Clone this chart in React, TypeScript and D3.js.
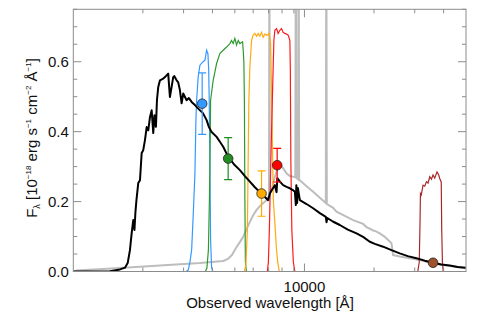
import React, { useEffect, useRef } from "react";
import { select, scaleLog, scaleLinear, line, range } from "d3";

// observed wavelength [Å], flux [1e-18 erg/s/cm2/Å]
const blackSed: [number, number][] = [
  [1000, 0], [1181, 0], [1441, 0.001], [1592, 0.006], [1673, 0.011], [1719, 0.024],
  [1758, 0.061], [1789, 0.11], [1817, 0.147], [1839, 0.119], [1857, 0.17], [1876, 0.204],
  [1910, 0.253], [1943, 0.261], [1976, 0.339], [2007, 0.347], [2042, 0.376], [2077, 0.413],
  [2110, 0.404], [2146, 0.441], [2183, 0.461], [2218, 0.396], [2244, 0.447], [2278, 0.414],
  [2301, 0.49], [2331, 0.528], [2371, 0.547], [2450, 0.552], [2491, 0.556], [2574, 0.566],
  [2618, 0.499], [2663, 0.528], [2706, 0.556], [2733, 0.559], [2799, 0.547], [2844, 0.541],
  [2892, 0.519], [2942, 0.481], [2989, 0.509], [3092, 0.49], [3163, 0.496], [3250, 0.485],
  [3359, 0.476], [3531, 0.461], [3638, 0.453], [3774, 0.433], [3862, 0.413], [3967, 0.399],
  [4169, 0.385], [4308, 0.371], [4452, 0.357], [4678, 0.328], [4952, 0.307], [5257, 0.29],
  [5525, 0.273], [5807, 0.257], [6103, 0.241], [6415, 0.227], [6743, 0.213], [6967, 0.204],
  [7086, 0.223], [7229, 0.233], [7447, 0.247], [7574, 0.227], [7634, 0.267], [7830, 0.257],
  [8088, 0.247], [8367, 0.242], [8648, 0.238], [8911, 0.233], [9090, 0.228], [9181, 0.19],
  [9226, 0.247], [9299, 0.196], [9365, 0.239], [9554, 0.204], [10211, 0.193], [10905, 0.181],
  [11658, 0.167], [12374, 0.156], [12460, 0.141], [12560, 0.153], [13268, 0.143], [14224, 0.133],
  [15402, 0.12], [16800, 0.109], [17940, 0.099], [19170, 0.085], [20160, 0.079], [21890, 0.071],
  [23800, 0.061], [25850, 0.052], [28000, 0.044], [30520, 0.038], [33160, 0.031], [36000, 0.025],
  [39140, 0.02], [42530, 0.017], [46050, 0.013], [49870, 0.011],
];

const graySed: [number, number][] = [
  [1000, 0], [1034, 0.003], [1592, 0.01], [2371, 0.017], [3531, 0.024], [4452, 0.03],
  [4666, 0.036], [4855, 0.047], [5086, 0.07], [5257, 0.084], [5433, 0.099], [5619, 0.121],
  [5807, 0.142], [6001, 0.161], [6209, 0.176], [6415, 0.187], [6630, 0.196], [6858, 0.204],
  [6982, 0.213], [7025, 0.216], [7054, 1.06], [7082, 0.224], [7210, 0.233], [7376, 0.261],
  [7574, 0.285], [7695, 0.304], [7830, 0.309], [8088, 0.295], [8367, 0.281], [8648, 0.273],
  [8936, 0.271], [9131, 0.27], [9181, 1.06], [9226, 0.267], [9393, 0.264], [9439, 1.06],
  [9487, 0.261], [9554, 0.261], [10211, 0.244], [10905, 0.228], [11658, 0.211], [12374, 0.196],
  [12436, 1.06], [12497, 0.193], [13268, 0.183], [13765, 0.171], [14950, 0.159], [16240, 0.147],
  [17360, 0.14], [17940, 0.136], [18560, 0.127], [19760, 0.118], [20500, 0.114], [21180, 0.109],
  [22260, 0.099], [23800, 0.081], [24180, 0.047], [25850, 0.043], [28560, 0.038], [31550, 0.033],
  [36000, 0.023], [42530, 0.016], [49870, 0.009],
];

// filter curves, scaled to the flux axis
const filterU: [number, number][] = [
  [3071, 0], [3142, 0.004], [3196, 0.027], [3250, 0.061], [3302, 0.161], [3359, 0.281],
  [3392, 0.433], [3416, 0.49], [3470, 0.557], [3531, 0.59], [3626, 0.599], [3710, 0.604],
  [3774, 0.633], [3823, 0.623], [3853, 0.576], [3873, 0.49], [3899, 0.319], [3926, 0.09],
  [3967, 0.01], [4018, 0],
];
const filterG: [number, number][] = [
  [3729, 0], [3785, 0.01], [3841, 0.061], [3880, 0.204], [3911, 0.376], [3926, 0.49],
  [4029, 0.547], [4169, 0.595], [4308, 0.624], [4452, 0.633], [4605, 0.642], [4759, 0.652],
  [4838, 0.661], [4919, 0.652], [5000, 0.667], [5086, 0.648], [5170, 0.661], [5257, 0.652],
  [5400, 0.657], [5433, 0.633], [5470, 0.6], [5498, 0.49], [5525, 0.204], [5553, 0.027], [5608, 0],
];
const filterR: [number, number][] = [
  [5498, 0], [5580, 0.019], [5664, 0.119], [5709, 0.319], [5749, 0.49], [5807, 0.585],
  [5906, 0.661], [6001, 0.676], [6103, 0.681], [6209, 0.673], [6309, 0.681], [6415, 0.673],
  [6523, 0.684], [6630, 0.67], [6743, 0.679], [6898, 0.676], [7037, 0.681], [7135, 0.652],
  [7192, 0.547], [7264, 0.376], [7336, 0.204], [7447, 0.139], [7574, 0.061], [7672, 0.024], [7788, 0],
];
const filterI: [number, number][] = [
  [6913, 0], [6982, 0.027], [7051, 0.119], [7157, 0.319], [7280, 0.519], [7376, 0.661],
  [7447, 0.69], [7574, 0.695], [7695, 0.681], [7830, 0.69], [7962, 0.695], [8088, 0.684],
  [8226, 0.681], [8367, 0.679], [8502, 0.676], [8648, 0.661], [8690, 0.576], [8733, 0.319],
  [8820, 0.119], [8953, 0.027], [9090, 0],
];
const filterK: [number, number][] = [
  [30930, 0], [31390, 0.027], [31640, 0.147], [31760, 0.223], [32020, 0.219], [32590, 0.247],
  [33150, 0.244], [33720, 0.257], [34260, 0.253], [34840, 0.271], [35440, 0.264], [36000, 0.276],
  [36620, 0.267], [37460, 0.285], [38100, 0.276], [38480, 0.266], [39070, 0.256], [39260, 0.119],
  [39530, 0.027], [39850, 0],
];

const filters = [filterU, filterG, filterR, filterI, filterK];
const filterColors = ["#3399ff", "#2e9a2e", "#ffaa11", "#ff1a1a", "#a82828"];

// photometry
const photWave = [3611, 4677, 6523, 7621, 36000];
const photFlux = [0.48, 0.323, 0.223, 0.304, 0.025];
const photErr = [0.088, 0.06, 0.065, 0.048, 0.003];
const photColors = ["#3399ff", "#228b22", "#ffaa00", "#ff0000", "#a0522d"];

const yTickLabels = ["0.0", "0.2", "0.4", "0.6"];
const xTickLabels = ["10000"];

const App = () => {
  const svgRef = useRef(null);

  const W = 491;
  const H = 327;
  const left = 73.3;
  const right = 466;
  const top = 9.3;
  const bottom = 271.5;
  const font = "'Liberation Sans', Arial, Helvetica, sans-serif";

  const x = scaleLog().domain([1000, 50000]).range([left, right]);
  const y = scaleLinear().domain([0, 0.75]).range([bottom, top]);

  useEffect(() => {
    const svg = select(svgRef.current);
    svg.selectAll("*").remove();

    svg
      .append("defs")
      .append("clipPath")
      .attr("id", "plotclip")
      .append("rect")
      .attr("x", left)
      .attr("y", top)
      .attr("width", right - left)
      .attr("height", bottom - top);

    const plot = svg.append("g").attr("clip-path", "url(#plotclip)");
    const path = line<[number, number]>()
      .x((d) => x(d[0]))
      .y((d) => y(d[1]));

    plot //second model
      .append("path")
      .attr("d", path(graySed))
      .attr("fill", "none")
      .attr("stroke", "#bdbdbd")
      .attr("stroke-width", 2);

    filters.forEach((f, i) => {
      plot
        .append("path")
        .attr("d", path(f))
        .attr("fill", "none")
        .attr("stroke", filterColors[i])
        .attr("stroke-width", 1.2);
    });

    plot //best fit
      .append("path")
      .attr("d", path(blackSed))
      .attr("fill", "none")
      .attr("stroke", "#000")
      .attr("stroke-width", 2)
      .attr("stroke-linejoin", "round");

    // error bars + points
    photWave.forEach((w, i) => {
      const cx = x(w);
      const g = plot.append("g").attr("stroke", photColors[i]).attr("stroke-width", 1.2);
      g.append("line")
        .attr("x1", cx).attr("x2", cx)
        .attr("y1", y(photFlux[i] - photErr[i]))
        .attr("y2", y(photFlux[i] + photErr[i]));
      [photFlux[i] - photErr[i], photFlux[i] + photErr[i]].forEach((v) => {
        g.append("line")
          .attr("x1", cx - 4).attr("x2", cx + 4)
          .attr("y1", y(v)).attr("y2", y(v));
      });
      plot
        .append("circle")
        .attr("cx", cx)
        .attr("cy", y(photFlux[i]))
        .attr("r", 4.8)
        .attr("fill", photColors[i])
        .attr("stroke", "#222")
        .attr("stroke-width", 0.8);
    });

    // frame and ticks
    const axis = svg.append("g").attr("stroke", "#8c8c8c").attr("stroke-width", 1);
    axis
      .append("rect")
      .attr("x", left)
      .attr("y", top)
      .attr("width", right - left)
      .attr("height", bottom - top)
      .attr("fill", "none");

    const xMinor = [
      ...range(2, 10).map((k) => k * 1000),
      ...range(2, 5).map((k) => k * 10000),
    ];
    xMinor.forEach((t) => {
      axis.append("line").attr("x1", x(t)).attr("x2", x(t)).attr("y1", bottom).attr("y2", bottom - 4);
      axis.append("line").attr("x1", x(t)).attr("x2", x(t)).attr("y1", top).attr("y2", top + 4);
    });
    [10000].forEach((t) => {
      axis.append("line").attr("x1", x(t)).attr("x2", x(t)).attr("y1", bottom).attr("y2", bottom - 8);
      axis.append("line").attr("x1", x(t)).attr("x2", x(t)).attr("y1", top).attr("y2", top + 8);
    });

    range(0, 16).forEach((k) => {
      const v = k * 0.05;
      const len = k % 4 === 0 ? 8 : 4;
      axis.append("line").attr("x1", left).attr("x2", left + len).attr("y1", y(v)).attr("y2", y(v));
      axis.append("line").attr("x1", right).attr("x2", right - len).attr("y1", y(v)).attr("y2", y(v));
    });

    // tick labels
    yTickLabels.forEach((lab) => {
      svg
        .append("text")
        .attr("x", left - 4.5)
        .attr("y", y(+lab) + 5.3)
        .attr("text-anchor", "end")
        .attr("font-family", font)
        .attr("font-size", 15)
        .attr("fill", "#111")
        .text(lab);
    });
    xTickLabels.forEach((lab) => {
      svg
        .append("text")
        .attr("x", x(+lab))
        .attr("y", 291.5)
        .attr("text-anchor", "middle")
        .attr("font-family", font)
        .attr("font-size", 15)
        .attr("fill", "#111")
        .text(lab);
    });

    // axis titles
    svg
      .append("text")
      .attr("x", 270)
      .attr("y", 308)
      .attr("text-anchor", "middle")
      .attr("font-family", font)
      .attr("font-size", 15)
      .attr("fill", "#111")
      .text("Observed wavelength [Å]");

    const yl = svg
      .append("text")
      .attr("transform", "translate(37,138) rotate(-90)")
      .attr("text-anchor", "middle")
      .attr("font-family", font)
      .attr("font-size", 15)
      .attr("fill", "#111");
    yl.append("tspan").text("F");
    yl.append("tspan").attr("font-size", 9).attr("dy", 3).text("λ");
    yl.append("tspan").attr("dy", -3).text(" [10");
    yl.append("tspan").attr("font-size", 8).attr("dy", -6).text("−18");
    yl.append("tspan").attr("dy", 6).text(" erg s");
    yl.append("tspan").attr("font-size", 8).attr("dy", -6).text("−1");
    yl.append("tspan").attr("dy", 6).text(" cm");
    yl.append("tspan").attr("font-size", 8).attr("dy", -6).text("−2");
    yl.append("tspan").attr("dy", 6).text(" Å");
    yl.append("tspan").attr("font-size", 8).attr("dy", -6).text("−1");
    yl.append("tspan").attr("dy", 6).text("]");
  }, []);

  return (
    <div style={{ position: "fixed", left: 0, top: 0, background: "#fff" }}>
      <svg ref={svgRef} width={W} height={H}></svg>
    </div>
  );
};

export default App;
